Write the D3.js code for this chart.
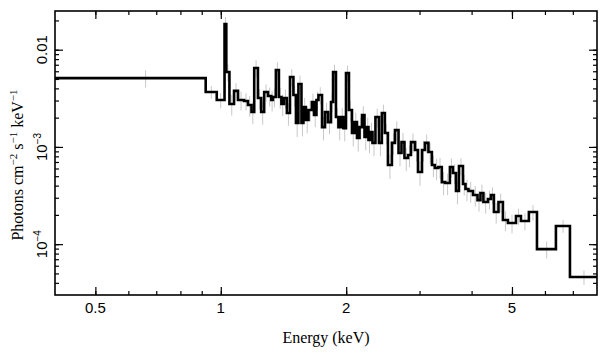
<!DOCTYPE html>
<html><head><meta charset="utf-8">
<script src="https://cdn.jsdelivr.net/npm/d3@7"></script>
<style>body{margin:0;background:#fff}</style>
</head><body>
<svg id="chart" width="609" height="357"></svg>
<script>
// Energy bin lower edges (keV); last bin ends at binHiLast
const binLo = [0.40,0.92,0.978,1.021,1.031,1.049,1.076,1.10,1.137,1.162,1.185,1.203,1.228,1.250,1.271,1.298,1.322,1.334,1.356,1.379,1.398,1.418,1.441,1.466,1.494,1.515,1.536,1.562,1.579,1.601,1.624,1.655,1.674,1.697,1.716,1.750,1.779,1.809,1.839,1.860,1.890,1.916,1.943,1.970,1.998,2.031,2.065,2.094,2.123,2.153,2.183,2.213,2.244,2.262,2.287,2.313,2.351,2.397,2.436,2.477,2.519,2.575,2.619,2.671,2.715,2.760,2.815,2.861,2.925,2.974,3.041,3.091,3.151,3.212,3.265,3.328,3.393,3.459,3.548,3.608,3.669,3.730,3.814,3.867,3.931,4.031,4.133,4.201,4.270,4.378,4.452,4.525,4.641,4.756,4.890,5.112,5.254,5.49,5.741,6.375,6.889];
const binHiLast = 8.0;
// Model flux per bin (photons cm^-2 s^-1 keV^-1)
const flux = [5.1e-3,3.67e-3,3.04e-3,1.84e-2,5.9e-3,2.76e-3,3.77e-3,3.04e-3,2.97e-3,2.70e-3,2.29e-3,6.48e-3,3.18e-3,2.29e-3,3.67e-3,3.34e-3,3.04e-3,3.26e-3,6.18e-3,3.26e-3,2.76e-3,3.18e-3,2.23e-3,5.24e-3,3.42e-3,1.76e-3,4.44e-3,1.76e-3,2.57e-3,1.89e-3,2.40e-3,2.90e-3,2.13e-3,3.04e-3,3.42e-3,1.60e-3,2.29e-3,1.80e-3,2.90e-3,5.90e-3,2.03e-3,1.60e-3,2.03e-3,1.56e-3,5.75e-3,2.40e-3,1.39e-3,1.80e-3,1.24e-3,1.60e-3,2.13e-3,1.265e-3,1.60e-3,1.18e-3,1.42e-3,1.10e-3,2.03e-3,1.10e-3,2.23e-3,1.39e-3,6.52e-4,1.10e-3,1.49e-3,8.65e-4,1.12e-3,7.69e-4,8.26e-4,1.12e-3,9.29e-4,5.52e-4,9.29e-4,1.10e-3,8.86e-4,6.52e-4,6.07e-4,6.21e-4,4.35e-4,4.25e-4,6.21e-4,5.39e-4,3.52e-4,6.36e-4,4.16e-4,3.69e-4,3.52e-4,3.20e-4,2.84e-4,3.36e-4,2.71e-4,2.91e-4,3.20e-4,2.14e-4,2.71e-4,1.77e-4,1.65e-4,1.95e-4,1.73e-4,2.14e-4,8.9e-5,1.54e-4,4.59e-5];
// Relative data uncertainty per bin (grey error bars)
const relErr = [0.20,0.15,0.18,0.18,0.20,0.24,0.20,0.22,0.20,0.24,0.25,0.20,0.24,0.26,0.20,0.22,0.24,0.22,0.20,0.24,0.25,0.22,0.26,0.20,0.24,0.28,0.22,0.27,0.24,0.27,0.24,0.22,0.25,0.22,0.20,0.27,0.24,0.25,0.22,0.19,0.24,0.27,0.24,0.27,0.19,0.24,0.27,0.25,0.28,0.25,0.23,0.27,0.25,0.27,0.25,0.27,0.22,0.27,0.22,0.24,0.28,0.25,0.23,0.27,0.24,0.27,0.25,0.23,0.24,0.28,0.24,0.22,0.24,0.25,0.25,0.24,0.27,0.25,0.22,0.23,0.27,0.20,0.24,0.25,0.24,0.24,0.24,0.22,0.24,0.22,0.20,0.24,0.22,0.23,0.22,0.19,0.20,0.18,0.20,0.15,0.17];
const xTickLabels = [0.5, 1, 2, 5];
const xMinorTicks = [0.5,0.6,0.7,0.8,0.9,1,2,3,4,5,6,7];
const yTickLabels = [1e-2, 1e-3, 1e-4];
const yMinorTicks = [4e-5,5e-5,6e-5,7e-5,8e-5,9e-5,1e-4,2e-4,3e-4,4e-4,5e-4,6e-4,7e-4,8e-4,9e-4,1e-3,2e-3,3e-3,4e-3,5e-3,6e-3,7e-3,8e-3,9e-3,1e-2,2e-2];
const xTitle = "Energy (keV)";

const L=55, R=597, T=11, B=295;
const x = d3.scaleLog().domain([0.4, 8]).range([L, R]);
const y = d3.scaleLog().domain([3e-5, 0.025]).range([B, T]);
const svg = d3.select("#chart");

svg.append("defs").append("clipPath").attr("id","clip")
  .append("rect").attr("x",L).attr("y",T).attr("width",R-L).attr("height",B-T);

const edges = binLo.concat([binHiLast]);
const g = svg.append("g").attr("clip-path","url(#clip)");

// error bars
g.selectAll("line.err").data(flux).join("line").attr("class","err")
  .attr("x1",(d,i)=>x((edges[i]+edges[i+1])/2))
  .attr("x2",(d,i)=>x((edges[i]+edges[i+1])/2))
  .attr("y1",(d,i)=>y(d*(1+relErr[i])))
  .attr("y2",(d,i)=>y(d*(1-relErr[i])))
  .attr("stroke","#c8c8c8").attr("stroke-width",1);

// step model line
const pts = edges.map((e,i)=>[e, flux[Math.min(i, flux.length-1)]]);
g.append("path").datum(pts)
  .attr("d", d3.line().x(d=>x(d[0])).y(d=>y(d[1])).curve(d3.curveStepAfter))
  .attr("fill","none").attr("stroke","#000").attr("stroke-width",2.6)
  .attr("stroke-linejoin","miter");

// ticks (inward, all four sides)
function ticks(axisGen, scale, vals, size, tr){
  const a = svg.append("g").attr("transform",tr)
    .call(axisGen(scale).tickValues(vals).tickSize(size).tickFormat(""));
  a.select(".domain").remove();
  a.selectAll("line").attr("stroke","#000").attr("stroke-width",1.2);
}
ticks(d3.axisBottom, x, xMinorTicks, -4, `translate(0,${B})`);
ticks(d3.axisBottom, x, xTickLabels, -8, `translate(0,${B})`);
ticks(d3.axisTop, x, xMinorTicks, -4, `translate(0,${T})`);
ticks(d3.axisTop, x, xTickLabels, -8, `translate(0,${T})`);
ticks(d3.axisLeft, y, yMinorTicks, -4, `translate(${L},0)`);
ticks(d3.axisLeft, y, yTickLabels, -8, `translate(${L},0)`);
ticks(d3.axisRight, y, yMinorTicks, -4, `translate(${R},0)`);
ticks(d3.axisRight, y, yTickLabels, -8, `translate(${R},0)`);

// frame
svg.append("rect").attr("x",L).attr("y",T).attr("width",R-L).attr("height",B-T)
  .attr("fill","none").attr("stroke","#000").attr("stroke-width",1.6);

// x tick labels
svg.selectAll("text.xl").data(xTickLabels).join("text").attr("class","xl")
  .attr("x",d=>x(d)).attr("y",313).attr("text-anchor","middle")
  .attr("font-family","Liberation Sans, Arial, sans-serif").attr("font-size",15)
  .text(d=>d3.format("")(d));

// y tick labels (rotated)
yTickLabels.forEach(v=>{
  const t = svg.append("text")
    .attr("transform",`translate(47,${y(v)}) rotate(-90)`)
    .attr("text-anchor","middle")
    .attr("font-family","Liberation Sans, Arial, sans-serif").attr("font-size",15);
  const e = Math.round(Math.log10(v));
  if (e === -2) { t.text("0.01"); }
  else {
    t.append("tspan").text("10");
    t.append("tspan").attr("dy",-6).attr("font-size",10).text("\u2212" + Math.abs(e));
  }
});

// axis titles
svg.append("text").attr("x",(L+R)/2).attr("y",343).attr("text-anchor","middle")
  .attr("font-family","Liberation Serif, Times New Roman, serif").attr("font-size",16)
  .text(xTitle);

const yt = svg.append("text").attr("transform","translate(23,165) rotate(-90)")
  .attr("text-anchor","middle")
  .attr("font-family","Liberation Serif, Times New Roman, serif").attr("font-size",16);
yt.append("tspan").text("Photons cm");
yt.append("tspan").attr("dy",-6).attr("font-size",11).text("\u22122");
yt.append("tspan").attr("dy",6).text(" s");
yt.append("tspan").attr("dy",-6).attr("font-size",11).text("\u22121");
yt.append("tspan").attr("dy",6).text(" keV");
yt.append("tspan").attr("dy",-6).attr("font-size",11).text("\u22121");
</script>
</body></html>
